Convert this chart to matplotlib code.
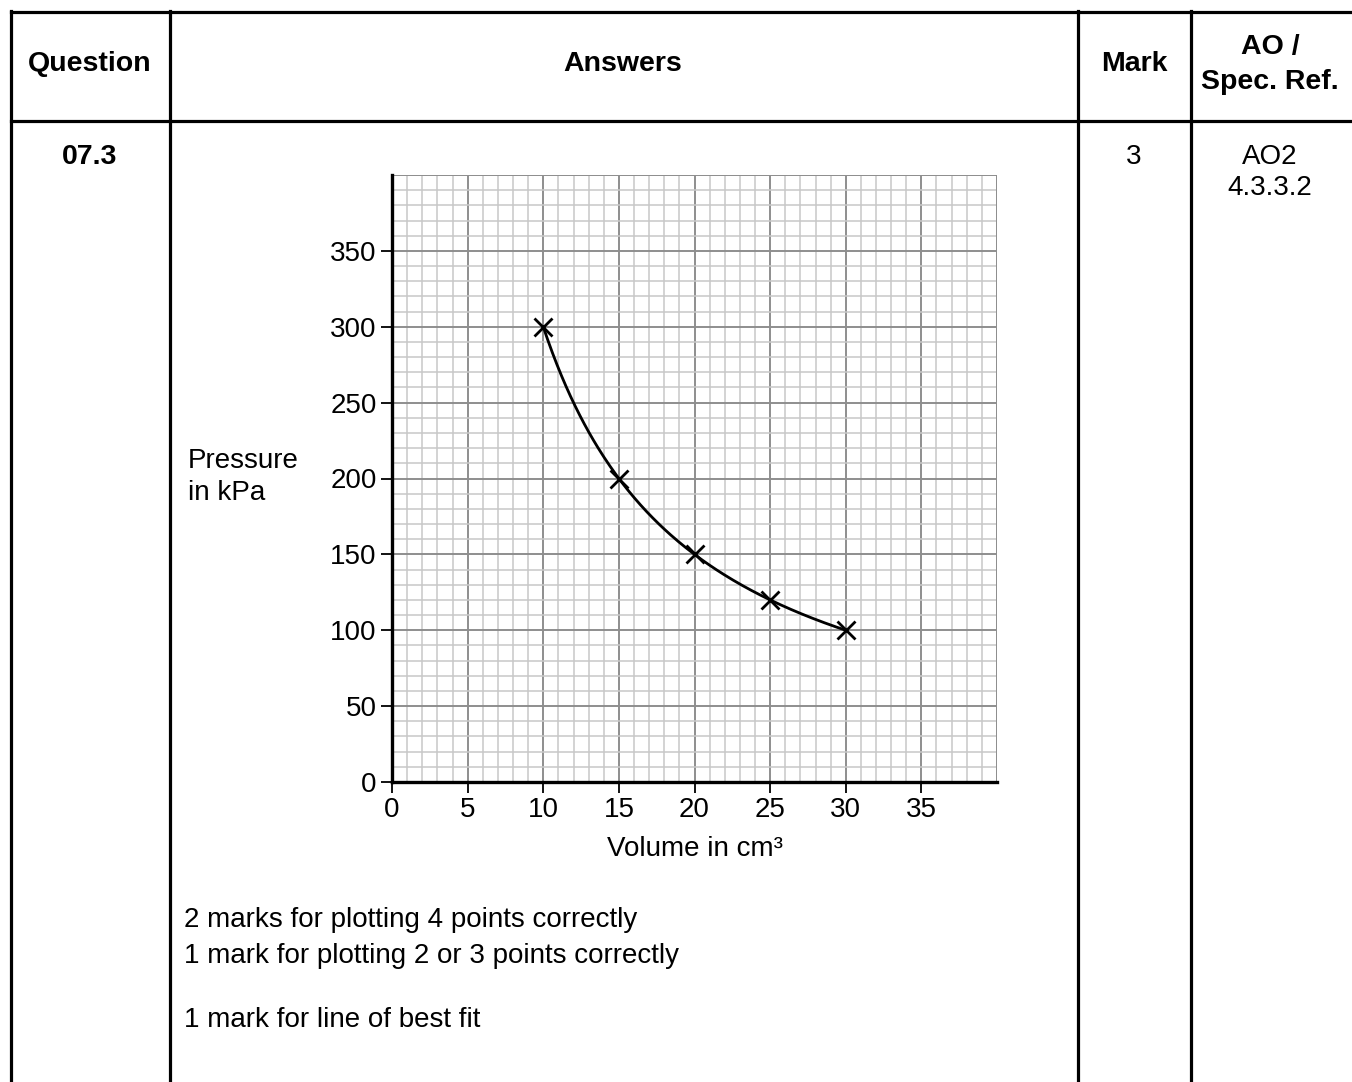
import numpy as np
import matplotlib
matplotlib.use("Agg")
import matplotlib.pyplot as plt
from matplotlib.lines import Line2D

plt.rcParams['font.family'] = ['Liberation Sans', 'DejaVu Sans']

# data
volume = [10, 15, 20, 25, 30]
pressure = [300, 200, 150, 120, 100]
x_ticks = [0, 5, 10, 15, 20, 25, 30, 35]
y_ticks = [0, 50, 100, 150, 200, 250, 300, 350]

W, H = 1352, 1082
fig = plt.figure(figsize=(W / 100, H / 100), dpi=100)

def fx(px):
    return px / W

def fy(py):
    return 1 - py / H

# table lines
lw = 2.3
def hline(y, x0, x1):
    fig.add_artist(Line2D([fx(x0), fx(x1)], [fy(y), fy(y)], color='black', lw=lw))

def vline(x, y0, y1):
    fig.add_artist(Line2D([fx(x), fx(x)], [fy(y0), fy(y1)], color='black', lw=lw))

hline(12, 11, W + 5)
hline(120.5, 11, W + 5)
vline(11, 11, H + 5)
vline(170, 11, H + 5)
vline(1077.5, 11, H + 5)
vline(1190.5, 11, H + 5)

fs = 20
fsb = 20.5
fig.text(fx(90), fy(64), "Question", ha='center', va='center', fontsize=fsb, fontweight='bold')
fig.text(fx(623), fy(64), "Answers", ha='center', va='center', fontsize=fsb, fontweight='bold')
fig.text(fx(1134), fy(64), "Mark", ha='center', va='center', fontsize=fsb, fontweight='bold')
fig.text(fx(1270), fy(47), "AO /", ha='center', va='center', fontsize=fsb, fontweight='bold')
fig.text(fx(1270), fy(82), "Spec. Ref.", ha='center', va='center', fontsize=fsb, fontweight='bold')
fig.text(fx(90), fy(157), "07.3", ha='center', va='center', fontsize=fsb, fontweight='bold')
fig.text(fx(1134), fy(157), "3", ha='center', va='center', fontsize=fs)
fig.text(fx(1270), fy(157), "AO2", ha='center', va='center', fontsize=fs)
fig.text(fx(1270), fy(188), "4.3.3.2", ha='center', va='center', fontsize=fs)

fig.text(fx(184), fy(920), "2 marks for plotting 4 points correctly", ha='left', va='center', fontsize=fs)
fig.text(fx(184), fy(956), "1 mark for plotting 2 or 3 points correctly", ha='left', va='center', fontsize=fs)
fig.text(fx(184), fy(1020), "1 mark for line of best fit", ha='left', va='center', fontsize=fs)

fig.text(fx(188), fy(461), "Pressure", ha='left', va='center', fontsize=fs)
fig.text(fx(188), fy(493), "in kPa", ha='left', va='center', fontsize=fs)

# axes
x0p, x1p, y0p, y1p = 392, 997, 175, 782
ax = fig.add_axes([fx(x0p), fy(y1p), (x1p - x0p) / W, (y1p - y0p) / H])
ax.set_xlim(0, 40)
ax.set_ylim(0, 400)

ax.set_xticks(x_ticks)
ax.set_yticks(y_ticks)
ax.set_xticks(np.arange(0, 41, 1), minor=True)
ax.set_yticks(np.arange(0, 401, 10), minor=True)
ax.tick_params(axis='both', which='major', labelsize=fs, length=8, width=1.3, direction='out', pad=3)
ax.tick_params(axis='both', which='minor', length=0)

ax.grid(which='minor', color='#c8c8c8', lw=1.1)
ax.grid(which='major', color='#8e8e8e', lw=1.4)
ax.set_axisbelow(True)

for s in ['top', 'right']:
    ax.spines[s].set_visible(False)
for s in ['left', 'bottom']:
    ax.spines[s].set_linewidth(2.4)
ax.axvline(40, color='#8e8e8e', lw=1.4)
ax.axhline(400, color='#8e8e8e', lw=1.4)

# line of best fit: P = a/V + b from least squares on the data
v = np.array(volume, dtype=float)
p = np.array(pressure, dtype=float)
a, b = np.polyfit(1 / v, p, 1)
vv = np.linspace(v.min(), v.max(), 200)
ax.plot(vv, a / vv + b, color='black', lw=2, zorder=3)
ax.plot(volume, pressure, linestyle='none', marker='x', color='black', ms=13, mew=2, zorder=4)

ax.set_xlabel("Volume in cm\u00b3", fontsize=fs, labelpad=9)

fig.savefig("out.png", dpi=100)
